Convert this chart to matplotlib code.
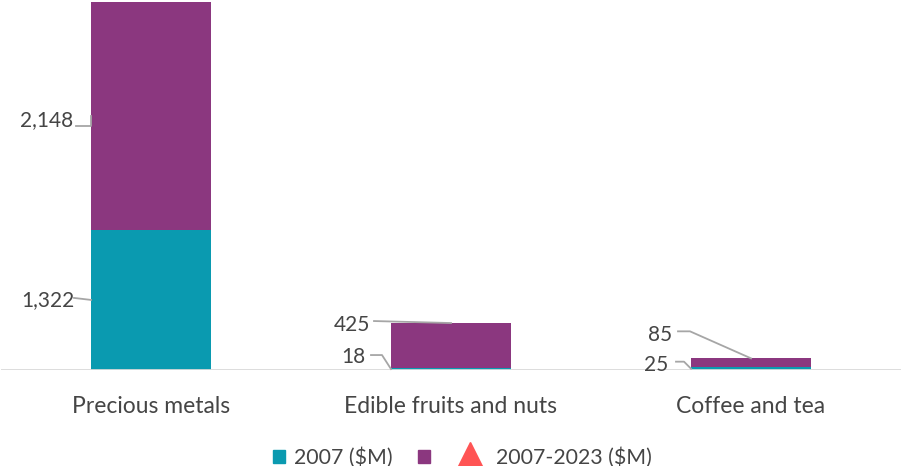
import matplotlib.pyplot as plt
from matplotlib.lines import Line2D
from matplotlib.patches import Patch

plt.rcParams["font.family"] = ["Lato", "DejaVu Sans"]

categories = ["Precious metals", "Edible fruits and nuts", "Coffee and tea"]
value_2007 = [1322, 18, 25]
value_growth = [2148, 425, 85]
legend_labels = ["2007 ($M)", "", "2007-2023 ($M)"]

TEAL = "#0a9ab0"
PURPLE = "#8b377f"
RED = "#ff5454"
TEXT = "#454545"
LEADER = "#a6a6a6"

W, H = 903, 466
fig = plt.figure(figsize=(W / 100, H / 100), dpi=100)
ax = fig.add_axes([1 / W, 96 / H, 900 / W, 370 / H])

x = list(range(len(categories)))
bw = 0.4
ax.bar(x, value_2007, width=bw, color=TEAL, zorder=2)
ax.bar(x, value_growth, width=bw, bottom=value_2007, color=PURPLE, zorder=2)

ax.set_xlim(-0.5, len(categories) - 0.5)
ax.set_ylim(0, 3490)
ax.axhline(0, color="#d9d9d9", lw=2, zorder=3)
for s in ax.spines.values():
    s.set_visible(False)
ax.set_yticks([])
ax.set_xticks(x)
ax.set_xticklabels(categories, fontsize=16.5, color=TEXT)
ax.tick_params(axis="x", length=0, pad=19)


def to_px(xd, yd):
    px, py = ax.transData.transform((xd, yd))
    return px, H - py


def to_data(px, py):
    return ax.transData.inverted().transform((px, H - py))


def leader_label(value, target, text_off, path):
    tx, ty = to_px(*target)
    lx, ly = to_data(tx + text_off[0], ty + text_off[1])
    ax.text(lx, ly, f"{value:,}", ha="right", va="center", fontsize=15,
            color=TEXT, clip_on=False)
    pts = [to_data(tx + dx, ty + dy) for dx, dy in path] + [to_data(tx, ty)]
    ax.plot([p[0] for p in pts], [p[1] for p in pts], color=LEADER,
            lw=1.3, zorder=4, clip_on=False)


# precious metals: labels beside each segment
leader_label(value_growth[0], (x[0] - bw / 2, value_2007[0] + value_growth[0] / 2),
             (-18, 4), [(-15, 10), (0, 10)])
leader_label(value_2007[0], (x[0] - bw / 2, value_2007[0] / 2),
             (-16, 0), [(-17, -2)])
# edible fruits and nuts
leader_label(value_growth[1], (x[1], value_2007[1] + value_growth[1]),
             (-81, 2), [(-77, -2)])
leader_label(value_2007[1], (x[1] - bw / 2, value_2007[1] / 2),
             (-26, -12), [(-20, -14), (-9, -14)])
# coffee and tea
leader_label(value_growth[2], (x[2], value_2007[2] + value_growth[2]),
             (-79, -23), [(-73, -27), (-61, -27)])
leader_label(value_2007[2], (x[2] - bw / 2, value_2007[2] / 2),
             (-23, -4), [(-15, -7), (-7, -7)])

handles = [
    Patch(color=TEAL),
    Patch(color=PURPLE),
    Line2D([], [], marker="^", color=RED, linestyle="none", markersize=22),
]
# the wide triangle overhangs its handle box, so pad its label a little
labels = [legend_labels[0], legend_labels[1], "  " + legend_labels[2]]
fig.legend(handles, labels, loc="lower center", ncol=3,
           bbox_to_anchor=(0.512, -0.045), frameon=False,
           prop={"size": 15.3},
           labelcolor=TEXT, handlelength=0.58, handleheight=0.58,
           handletextpad=0.4, columnspacing=1.2)

fig.savefig("out.png", dpi=100)
